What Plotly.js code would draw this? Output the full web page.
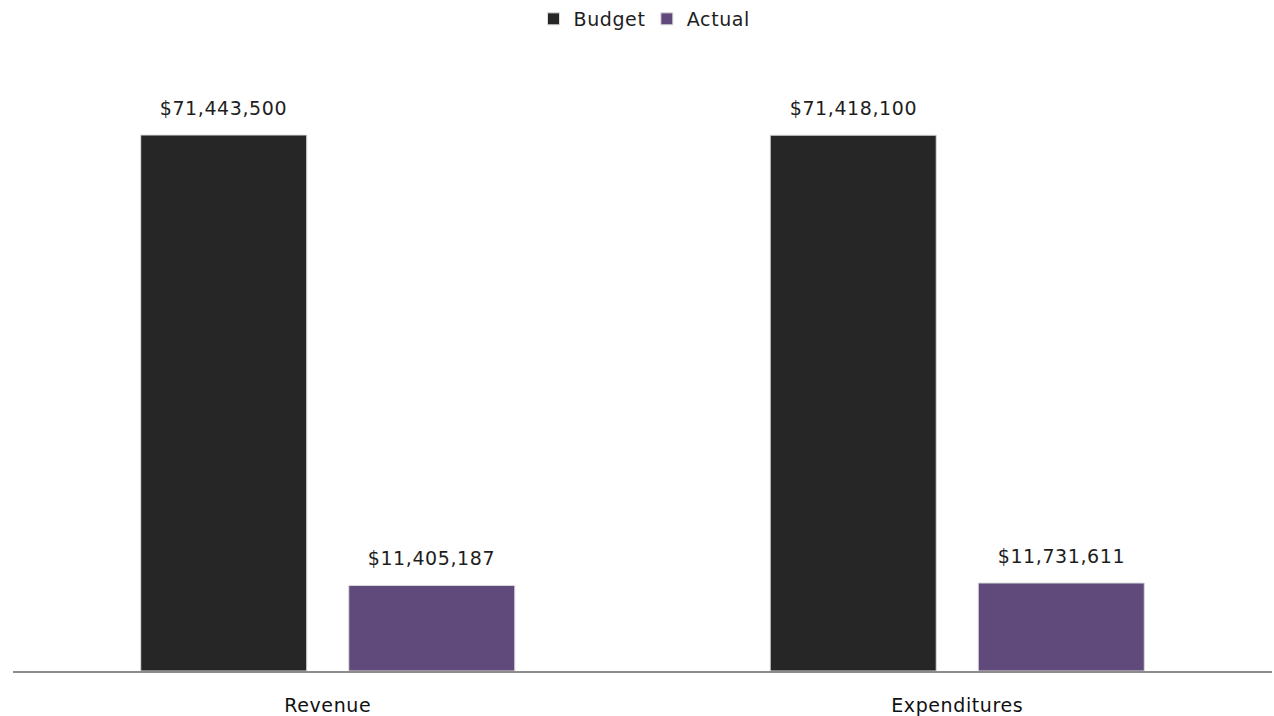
<!DOCTYPE html>
<html><head><meta charset="utf-8">
<script src="https://cdn.plot.ly/plotly-3.0.1.min.js"></script>
<style>html,body{margin:0;padding:0;background:#fff;}#chart{width:1274px;height:716px;}
#chart svg text{letter-spacing:0.6px;}</style>
</head><body><div id="chart"></div>
<script>
const categories = ["Revenue", "Expenditures"];
const budgetValues = [71443500, 71418100];
const actualValues = [11405187, 11731611];
const seriesNames = ["Budget", "Actual"];

function fmt(v){ return "$" + v.toLocaleString("en-US"); }

const FAMILY = "DejaVu Sans, sans-serif";
const font = {family: FAMILY, size: 19, color: "#1e1e1e"};

const BARGAP = 0.339, GROUPGAP = 0.202;
const PLOT_W = 1274 - 13 - 2;
const slotPx = PLOT_W / categories.length * (1 - BARGAP) / 2;

const traces = [
  {type:"bar", name:seriesNames[0], x:categories, y:budgetValues,
   marker:{color:"#262626", line:{color:"#dcdcdc", width:1}}, hoverinfo:"none"},
  {type:"bar", name:seriesNames[1], x:categories, y:actualValues,
   marker:{color:"#604a7b", line:{color:"#dcdcdc", width:1}}, hoverinfo:"none"}
];

const annotations = [];
[budgetValues, actualValues].forEach((vals, si) => {
  vals.forEach((v, i) => {
    annotations.push({x:categories[i], y:v, xref:"x", yref:"y", text:fmt(v),
      showarrow:false, yanchor:"bottom", xanchor:"center",
      xshift:(si === 0 ? -1 : 1) * slotPx / 2, yshift:14, font:font});
  });
});

const layout = {
  width:1274, height:716,
  margin:{l:13, r:2, t:60, b:45},
  paper_bgcolor:"#fff", plot_bgcolor:"#fff",
  barmode:"group", bargap:BARGAP, bargroupgap:GROUPGAP,
  font:font,
  showlegend:true,
  legend:{orientation:"h", x:0.5, xanchor:"center", y:1, yref:"container", yanchor:"top",
          font:{family:FAMILY, size:19, color:"#1e1e1e"}, itemwidth:30},
  xaxis:{showline:true, linecolor:"#8c8c8c", linewidth:2, ticks:"", showgrid:false,
         tickfont:{family:FAMILY, size:19, color:"#111"}, ticklabelstandoff:16},
  yaxis:{range:[0, 81441000], visible:false, showgrid:false, zeroline:false},
  annotations:annotations
};

Plotly.newPlot("chart", traces, layout, {displayModeBar:false, staticPlot:true});
</script></body></html>
